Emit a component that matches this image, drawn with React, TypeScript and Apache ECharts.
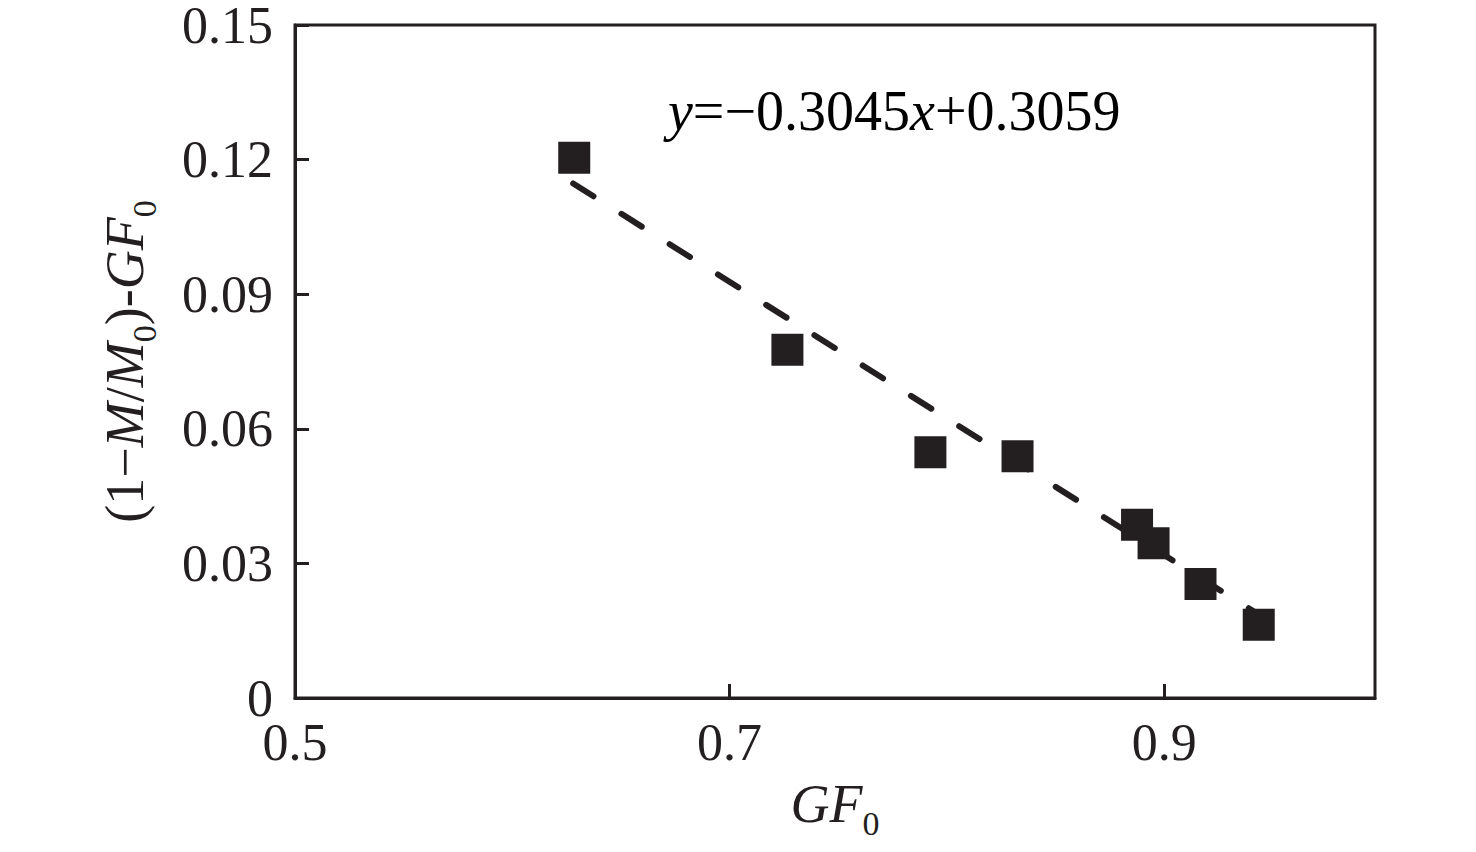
import React, { useEffect, useRef } from "react";
import * as echarts from "echarts";

const xValues = [0.6285, 0.7266, 0.7924, 0.8325, 0.8875, 0.8951, 0.9167, 0.9435];
const yValues = [0.1204, 0.0776, 0.0548, 0.0539, 0.0386, 0.0345, 0.0254, 0.0163];
const fitSlope = -0.3045;
const fitIntercept = 0.3059;
const fitRange = [0.628, 0.945];
const xTicks = [0.5, 0.7, 0.9];

const FONT = '"Liberation Serif", "Times New Roman", serif';
const INK = "#231f20";

export default function App() {
  const ref = useRef<HTMLDivElement>(null);
  useEffect(() => {
    document.body.style.margin = "0";
    if (!ref.current) return;
    const chart = echarts.init(ref.current, undefined, { renderer: "svg" });
    const scatterData = xValues.map((x, i) => [x, yValues[i]]);
    const fitData = fitRange.map((x) => [x, fitSlope * x + fitIntercept]);
    const titleRich = {
      n: { fontFamily: FONT, fontSize: 54, color: INK, lineHeight: 60 },
      i: { fontFamily: FONT, fontSize: 54, fontStyle: "italic", color: INK, lineHeight: 60 },
      s: { fontFamily: FONT, fontSize: 34, color: INK, verticalAlign: "bottom", lineHeight: 60, padding: [0, 0, -6, 0] },
    };
    chart.setOption({
      animation: false,
      backgroundColor: "#ffffff",
      grid: {
        left: 295,
        top: 25,
        right: 101,
        bottom: 154,
        show: true,
        borderColor: INK,
        borderWidth: 3,
        containLabel: false,
        outerBoundsMode: "none",
      },
      xAxis: {
        type: "value",
        min: 0.5,
        max: 0.997,
        name: "{i|GF}{s|0}",
        nameLocation: "middle",
        nameGap: 76,
        nameTextStyle: { rich: titleRich },
        axisLine: { show: true, lineStyle: { color: INK, width: 3 } },
        axisTick: { show: true, inside: true, length: 14, customValues: xTicks, lineStyle: { color: INK, width: 3 } },
        axisLabel: {
          customValues: xTicks,
          margin: 22,
          lineHeight: 44,
          fontFamily: FONT,
          fontSize: 52,
          color: INK,
          formatter: (v: number) => String(Number(v.toFixed(2))),
        },
        splitLine: { show: false },
      },
      yAxis: {
        type: "value",
        min: 0,
        max: 0.15,
        interval: 0.03,
        name: "{n|(1−}{i|M}{n|/}{i|M}{s|0}{n|)-}{i|GF}{s|0}",
        nameLocation: "middle",
        nameRotate: 90,
        nameGap: 140,
        nameTextStyle: { rich: titleRich },
        axisLine: { show: true, lineStyle: { color: INK, width: 3 } },
        axisTick: { show: true, inside: true, length: 14, lineStyle: { color: INK, width: 3 } },
        axisLabel: {
          margin: 22,
          lineHeight: 40,
          fontFamily: FONT,
          fontSize: 52,
          color: INK,
          formatter: (v: number) => String(Number(v.toFixed(2))),
        },
        splitLine: { show: false },
      },
      graphic: [
        {
          type: "text",
          left: 668,
          top: 83,
          style: {
            text: "{i|y}{n|=−0.3045}{i|x}{n|+0.3059}",
            rich: {
              n: { fontFamily: FONT, fontSize: 56, color: INK },
              i: { fontFamily: FONT, fontSize: 56, fontStyle: "italic", color: INK },
            },
          },
        },
      ],
      series: [
        {
          type: "line",
          data: fitData,
          symbol: "none",
          z: 2,
          lineStyle: { color: INK, width: 6, type: [24, 33], cap: "round" },
        },
        {
          type: "scatter",
          data: scatterData,
          symbol: "rect",
          symbolSize: 32,
          z: 3,
          itemStyle: { color: INK, opacity: 1 },
        },
      ],
    });
    return () => chart.dispose();
  }, []);
  return <div ref={ref} style={{ width: 1476, height: 852 }} />;
}
